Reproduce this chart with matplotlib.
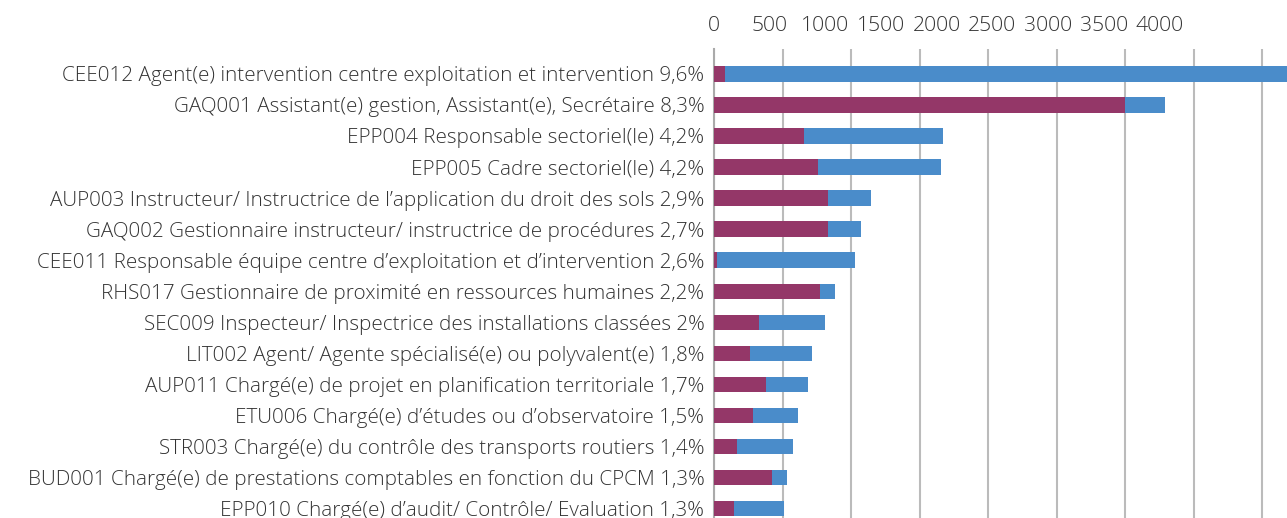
import numpy as np
import matplotlib
matplotlib.use("Agg")
import matplotlib.pyplot as plt

labels = [
    "CEE012 Agent(e) intervention centre exploitation et intervention 9,6%",
    "GAQ001 Assistant(e) gestion, Assistant(e), Secrétaire 8,3%",
    "EPP004 Responsable sectoriel(le) 4,2%",
    "EPP005 Cadre sectoriel(le) 4,2%",
    "AUP003 Instructeur/ Instructrice de l’application du droit des sols 2,9%",
    "GAQ002 Gestionnaire instructeur/ instructrice de procédures 2,7%",
    "CEE011 Responsable équipe centre d’exploitation et d’intervention 2,6%",
    "RHS017 Gestionnaire de proximité en ressources humaines 2,2%",
    "SEC009 Inspecteur/ Inspectrice des installations classées 2%",
    "LIT002 Agent/ Agente spécialisé(e) ou polyvalent(e) 1,8%",
    "AUP011 Chargé(e) de projet en planification territoriale 1,7%",
    "ETU006 Chargé(e) d’études ou d’observatoire 1,5%",
    "STR003 Chargé(e) du contrôle des transports routiers 1,4%",
    "BUD001 Chargé(e) de prestations comptables en fonction du CPCM 1,3%",
    "EPP010 Chargé(e) d’audit/ Contrôle/ Evaluation 1,3%",
]
purple_vals = [80, 3000, 660, 757, 834, 832, 20, 773, 328, 260, 377, 282, 166, 421, 146]
blue_vals = [4420, 290, 1009, 897, 312, 241, 1011, 110, 484, 457, 311, 331, 408, 114, 363]
xticks = list(range(0, 4001, 500))

PURPLE = "#943768"
BLUE = "#4a8cca"
TEXT = "#333333"

plt.rcParams['font.family'] = ['Open Sans', 'DejaVu Sans']

fig = plt.figure(figsize=(12.87, 5.18), dpi=100)
ax = fig.add_axes([714 / 1287, 0, 1 - 714 / 1287, 469 / 518])

y = np.arange(len(labels))
ax.barh(y, purple_vals, height=0.5, color=PURPLE, zorder=3)
ax.barh(y, blue_vals, left=purple_vals, height=0.5, color=BLUE, zorder=3)

ax.set_xlim(0, 4180)
ax.set_ylim(14.3, -0.8)
ax.set_xticks(xticks)
ax.xaxis.grid(True, color="#bbbbbb", linewidth=1.5, zorder=0)
ax.tick_params(axis='x', length=0, labelbottom=False, labeltop=False)
ax.set_yticks(y)
ax.set_yticklabels(labels, fontsize=14.9, color=TEXT, fontweight='light')
ax.tick_params(axis='y', length=0, pad=7)
for s in ['top', 'right', 'bottom']:
    ax.spines[s].set_visible(False)
ax.spines['left'].set_color("#aaaaaa")
ax.spines['left'].set_linewidth(1.5)

# the label row of the original sits on a narrower scale than its gridlines
def fwd(v):
    return np.asarray(v) / 0.812

def inv(l):
    return np.asarray(l) * 0.812

sec = ax.secondary_xaxis('top', functions=(fwd, inv))
sec.set_xticks(xticks)
sec.tick_params(length=0, pad=9, labelsize=15.2, labelcolor=TEXT)
for t in sec.get_xticklabels():
    t.set_fontweight('light')
sec.spines['top'].set_visible(False)

fig.savefig("out.png", dpi=100)
